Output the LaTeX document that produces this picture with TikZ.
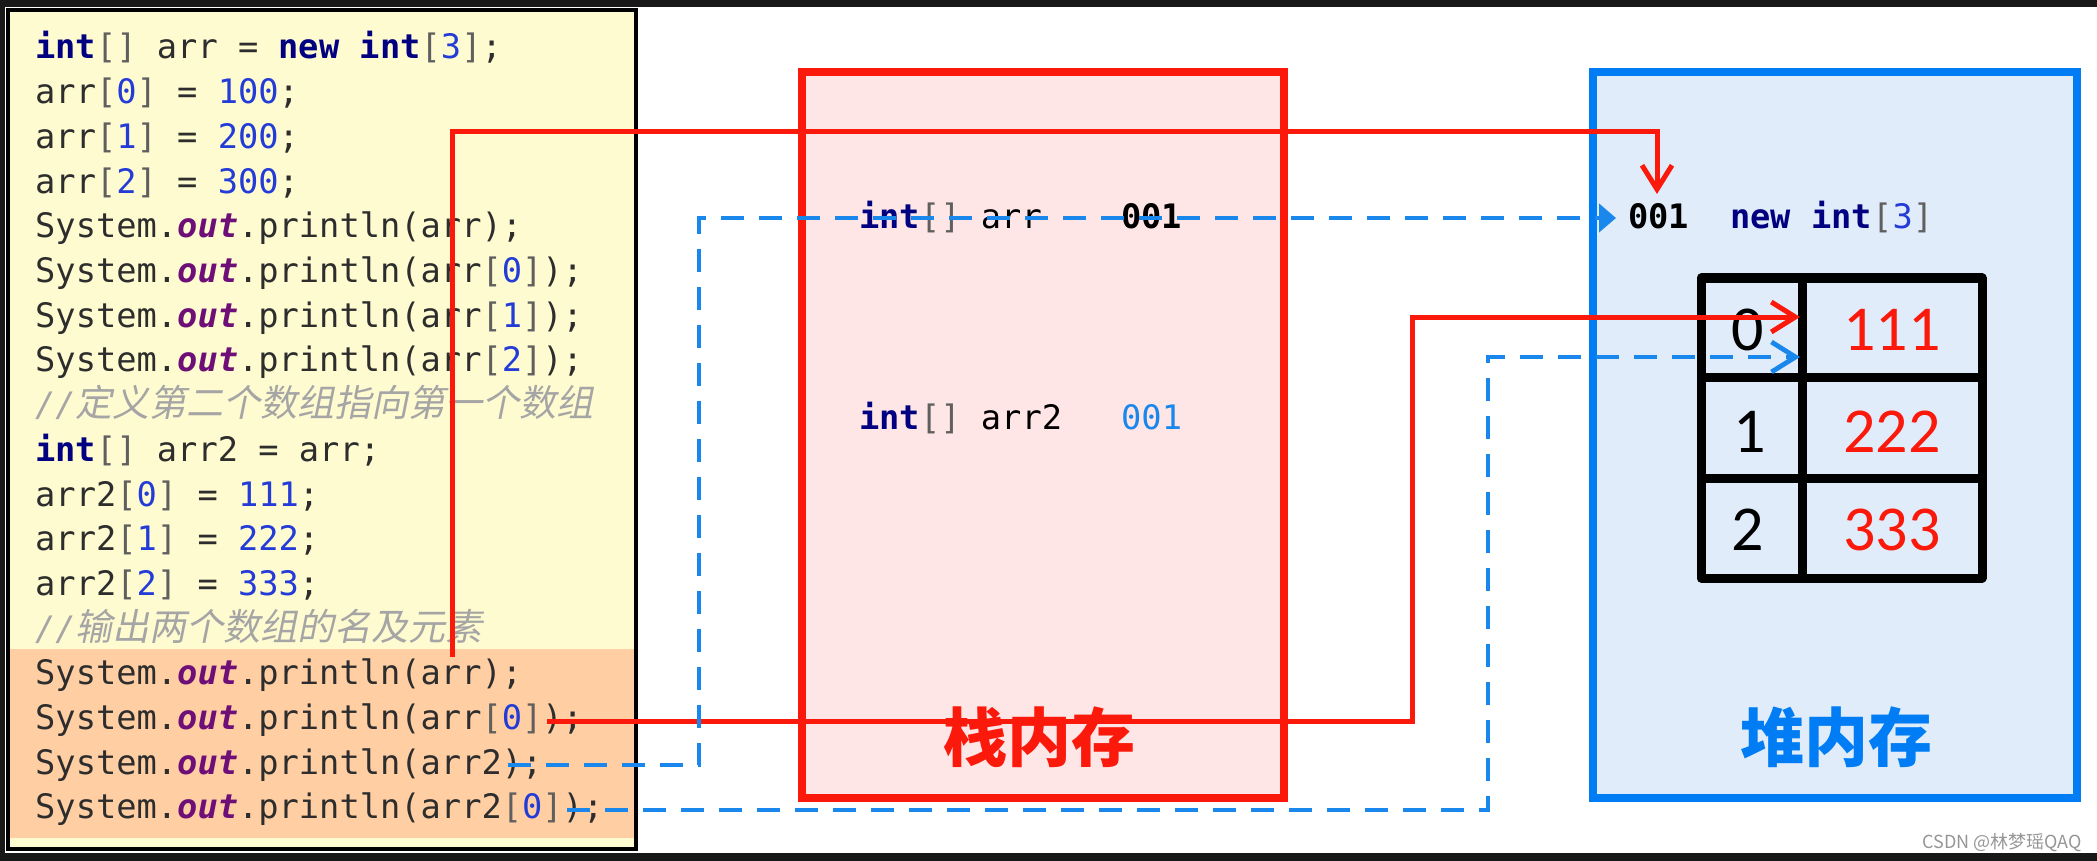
\documentclass[tikz,border=0pt]{standalone}
\usepackage{fontspec}
\setmonofont{DejaVu Sans Mono}
\newfontfamily\cjk{Noto Sans CJK SC}
\newfontfamily\cjkit[FakeSlant=0.2]{Noto Sans CJK SC}
\newfontfamily\carlito{Carlito}
\usetikzlibrary{arrows.meta,calc}
\definecolor{darkc}{RGB}{24,24,24}
\definecolor{codebg}{RGB}{255,251,208}
\definecolor{hlc}{RGB}{255,206,163}
\definecolor{codetxt}{RGB}{45,45,45}
\definecolor{kwc}{RGB}{0,0,128}
\definecolor{numc}{RGB}{35,60,215}
\definecolor{brc}{RGB}{95,95,95}
\definecolor{outc}{RGB}{110,15,120}
\definecolor{cmtc}{RGB}{165,165,165}
\definecolor{redc}{RGB}{250,25,10}
\definecolor{stackfill}{RGB}{255,230,230}
\definecolor{heapfill}{RGB}{224,236,250}
\definecolor{bluec}{RGB}{0,125,245}
\definecolor{blued}{RGB}{25,135,235}
\definecolor{wmc}{RGB}{150,150,150}
\newcommand\codefont{\ttfamily\fontsize{33.7pt}{40pt}\selectfont}
\newcommand\kwd[1]{{\color{kwc}\bfseries #1}}
\newcommand\numv[1]{{\color{numc}#1}}
\newcommand\brk[1]{{\color{brc}#1}}
\newcommand\fldo[1]{{\color{outc}\bfseries\itshape #1}}
\newcommand\cmtcjk{\cjkit\fontsize{37pt}{40pt}\selectfont}
\tikzset{
  codeline/.style={anchor=base west, inner sep=0pt, font=\codefont, text=codetxt},
  memtext/.style={anchor=base west, inner sep=0pt, font=\codefont, text=black},
  membox/.style={line width=8pt, minimum width=#1, minimum height=726pt, inner sep=0pt},
  memlabel/.style={inner sep=0pt, font=\cjk\bfseries\fontsize{64pt}{64pt}\selectfont},
  digit/.style={inner sep=0pt, font=\carlito\fontsize{64pt}{64pt}\selectfont},
  tbl/.style={line width=9pt, draw=black, line join=round},
  redline/.style={draw=redc, line width=5pt},
  bluedash/.style={draw=blued, line width=4.8pt, dash pattern=on 23pt off 15pt},
  barb/.style={-{Straight Barb[length=24pt,width=30pt]}},
  tri/.style={-{Triangle[length=17pt,width=28pt]}}
}
\begin{document}
\begin{tikzpicture}[x=1pt,y=-1pt]
\useasboundingbox (0,0) rectangle (2097,861);
\fill[white] (0,0) rectangle (2097,861);
% dark frame strips
\fill[darkc] (0,0) rectangle (2097,7);
\fill[darkc] (0,853) rectangle (2097,861);
\fill[darkc] (0,0) rectangle (5,861);
% code panel
\draw[line width=4pt, fill=codebg, draw=black] (8,10) rectangle (636,849);
\fill[hlc] (10,649) rectangle (634,838);
% code lines
\node[codeline] (c1) at (35,59.0) {\kwd{int}\brk{[]} arr = \kwd{new} \kwd{int}\brk{[}\numv{3}\brk{]};};
\node[codeline] (c2) at (35,103.7) {arr\brk{[}\numv{0}\brk{]} = \numv{100};};
\node[codeline] (c3) at (35,148.4) {arr\brk{[}\numv{1}\brk{]} = \numv{200};};
\node[codeline] (c4) at (35,193.1) {arr\brk{[}\numv{2}\brk{]} = \numv{300};};
\node[codeline] (c5) at (35,237.8) {System.\fldo{out}.println(arr);};
\node[codeline] (c6) at (35,282.5) {System.\fldo{out}.println(arr\brk{[}\numv{0}\brk{]});};
\node[codeline] (c7) at (35,327.2) {System.\fldo{out}.println(arr\brk{[}\numv{1}\brk{]});};
\node[codeline] (c8) at (35,371.9) {System.\fldo{out}.println(arr\brk{[}\numv{2}\brk{]});};
\node[codeline, text=cmtc] (c9) at (35,416.6) {\itshape //\cmtcjk 定义第二个数组指向第一个数组};
\node[codeline] (c10) at (35,461.3) {\kwd{int}\brk{[]} arr2 = arr;};
\node[codeline] (c11) at (35,506.0) {arr2\brk{[}\numv{0}\brk{]} = \numv{111};};
\node[codeline] (c12) at (35,550.7) {arr2\brk{[}\numv{1}\brk{]} = \numv{222};};
\node[codeline] (c13) at (35,595.4) {arr2\brk{[}\numv{2}\brk{]} = \numv{333};};
\node[codeline, text=cmtc] (c14) at (35,640.1) {\itshape //\cmtcjk 输出两个数组的名及元素};
\node[codeline] (c15) at (35,684.8) {System.\fldo{out}.println(arr);};
\node[codeline] (c16) at (35,729.5) {System.\fldo{out}.println(arr\brk{[}\numv{0}\brk{]});};
\node[codeline] (c17) at (35,774.2) {System.\fldo{out}.println(arr2);};
\node[codeline] (c18) at (35,818.9) {System.\fldo{out}.println(arr2\brk{[}\numv{0}\brk{]});};
% memory boxes
\node[membox=482pt, draw=redc, fill=stackfill] (stack) at (1043,435) {};
\node[membox=484pt, draw=bluec, fill=heapfill] (heap) at (1835,435) {};
\node[memlabel, text=redc] (stacklbl) at (1039,737) {栈内存};
\node[memlabel, text=bluec] (heaplbl) at (1836,737) {堆内存};
% stack contents
\node[memtext] (s1) at (859,229) {\kwd{int}\brk{[]} arr};
\node[memtext] (s1v) at (1121,229) {\bfseries 001};
\node[memtext] (s2) at (859,429) {\kwd{int}\brk{[]} arr2};
\node[memtext, text=blued] (s2v) at (1121,429) {001};
% heap contents
\node[memtext] (h1) at (1628,229) {\bfseries 001};
\node[memtext] (h2) at (1730,229) {\kwd{new} \kwd{int}\brk{[}\numv{3}\brk{]}};
% array table
\draw[tbl] (1701,278) rectangle (1982,578);
\draw[tbl] (1802,278) -- (1802,578);
\draw[tbl] (1701,377) -- (1982,377);
\draw[tbl] (1701,478) -- (1982,478);
\node[digit] (k0) at (1748,330) {0};
\node[digit] (k1) at (1750,432) {1};
\node[digit] (k2) at (1748,530) {2};
\node[digit, text=redc] (v0) at (1892,330) {111};
\node[digit, text=redc] (v1) at (1892,432) {222};
\node[digit, text=redc] (v2) at (1892,530) {333};
% connector points
\coordinate (r1s) at (452,657);
\coordinate (r1k) at (1657,132);
\coordinate (r1e) at (1657,194);
\coordinate (r2s) at (547,721);
\coordinate (r2k) at (1412,317);
\coordinate (r2e) at (1800,317);
\coordinate (b1s) at (508,765);
\coordinate (b1k) at (699,218);
\coordinate (b1e) at (1616,218);
\coordinate (b2s) at (567,810);
\coordinate (b2k) at (1488,357);
\coordinate (b2e) at (1800,357);
% connectors
\draw[redline, barb] (r1s) |- (r1k) -- (r1e);
\draw[redline, barb] (r2s) -| (r2k) -- (r2e);
\draw[bluedash, tri] (b1s) -| (b1k) -- (b1e);
\draw[bluedash, barb] (b2s) -| (b2k) -- (b2e);
% watermark
\node[inner sep=0pt, anchor=east, font=\cjk\fontsize{18pt}{18pt}\selectfont, text=wmc] (wm) at (2082,843) {CSDN @林梦瑶QAQ};
\end{tikzpicture}
\end{document}
